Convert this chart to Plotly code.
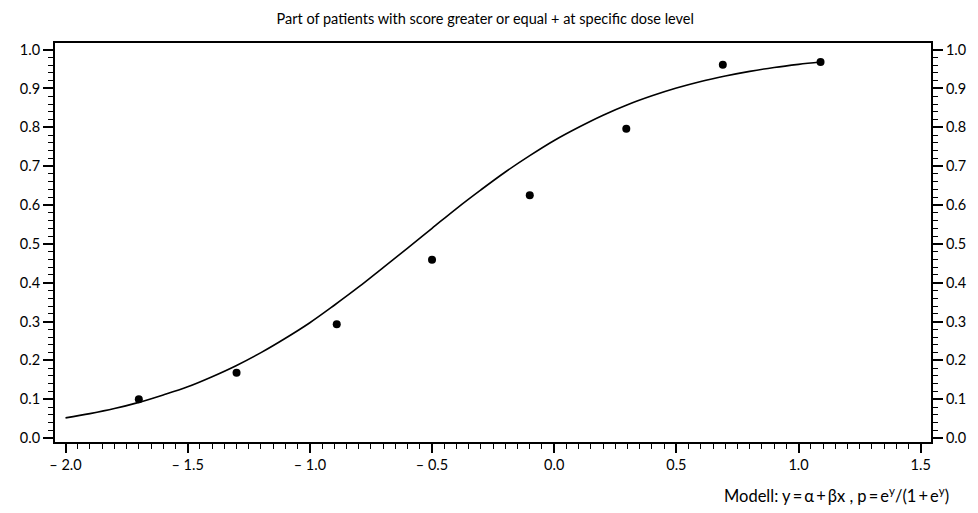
import plotly.graph_objects as go

# observed proportions
dose = [-1.70, -1.30, -0.89, -0.50, -0.10, 0.295, 0.69, 1.09]
prop = [0.100, 0.168, 0.293, 0.459, 0.625, 0.796, 0.961, 0.968]

# fitted curve
curve_x = [-2.0, -1.9, -1.8, -1.7, -1.6, -1.5, -1.4, -1.3, -1.2, -1.1, -1.0,
           -0.9, -0.8, -0.7, -0.6, -0.5, -0.4, -0.3, -0.2, -0.1, 0.0,
           0.1, 0.2, 0.3, 0.4, 0.5, 0.6, 0.7, 0.8, 0.9, 1.0, 1.09]
curve_y = [0.052, 0.063, 0.076, 0.092, 0.111, 0.132, 0.158, 0.187, 0.220, 0.257, 0.297,
           0.342, 0.389, 0.439, 0.489, 0.540, 0.591, 0.639, 0.685, 0.727, 0.766,
           0.800, 0.831, 0.858, 0.881, 0.901, 0.918, 0.932, 0.944, 0.954, 0.962, 0.968]

x_tickvals = [-2.0, -1.5, -1.0, -0.5, 0.0, 0.5, 1.0, 1.5]
x_ticktext = ["\u2013 2.0", "\u2013 1.5", "\u2013 1.0", "\u2013 0.5", "0.0", "0.5", "1.0", "1.5"]
y_tickvals = [0.0, 0.1, 0.2, 0.3, 0.4, 0.5, 0.6, 0.7, 0.8, 0.9, 1.0]
y_ticktext = ["0.0", "0.1", "0.2", "0.3", "0.4", "0.5", "0.6", "0.7", "0.8", "0.9", "1.0"]

title_text = "Part of patients with score greater or equal + at specific dose level"
model_text = "Modell: y\u2009=\u2009\u03b1\u2009+\u2009\u03b2x , p\u2009=\u2009e<sup>y</sup>/(1\u2009+\u2009e<sup>y</sup>)"

FONT = "Lato"

fig = go.Figure()
fig.add_trace(go.Scatter(x=curve_x, y=curve_y, mode="lines", line=dict(color="black", width=1.6, shape="spline"),
                         hoverinfo="skip", showlegend=False))
fig.add_trace(go.Scatter(x=dose, y=prop, mode="markers", marker=dict(color="black", size=8),
                         showlegend=False))
fig.add_trace(go.Scatter(x=[dose[0]], y=[prop[0]], yaxis="y2", mode="markers",
                         marker=dict(opacity=0), hoverinfo="skip", showlegend=False))

yax = dict(range=[-0.01, 1.017], tickvals=y_tickvals, ticktext=y_ticktext,
           ticks="outside", ticklen=10, tickwidth=1.5, tickcolor="black",
           minor=dict(dtick=0.02, tick0=0, ticks="outside", ticklen=5, tickwidth=1.2, tickcolor="black"),
           showline=True, linecolor="black", linewidth=2, showgrid=False, zeroline=False,
           tickfont=dict(family=FONT, size=14.5, color="black"))

fig.update_layout(
    width=970, height=505,
    margin=dict(l=43, r=43, t=35, b=71),
    paper_bgcolor="white", plot_bgcolor="white",
    title=dict(text=title_text, x=0.492, xanchor="center", y=0.978, yanchor="middle",
               font=dict(family=FONT, size=14.5, color="black")),
    xaxis=dict(range=[-2.043, 1.542], tickvals=x_tickvals, ticktext=x_ticktext,
               ticks="outside", ticklen=9, tickwidth=1.5, tickcolor="black",
               minor=dict(dtick=0.05, tick0=0, ticks="outside", ticklen=5, tickwidth=1.2, tickcolor="black"),
               showline=True, linecolor="black", linewidth=2, mirror=True,
               showgrid=False, zeroline=False,
               tickfont=dict(family=FONT, size=14.5, color="black")),
    yaxis=yax,
    yaxis2=dict(yax, overlaying="y", side="right", matches="y"),
    annotations=[dict(text=model_text, xref="paper", yref="paper", x=1.0226, y=-0.133,
                      xanchor="right", yanchor="middle", showarrow=False,
                      font=dict(family=FONT, size=16.5, color="black"))],
)

fig.write_html("out.html")
